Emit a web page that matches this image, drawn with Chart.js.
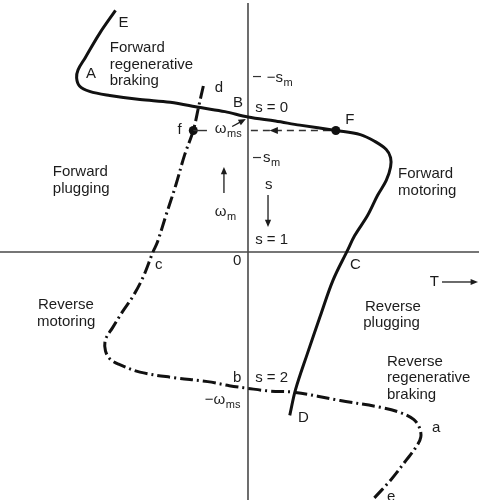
<!DOCTYPE html>
<html>
<head>
<meta charset="utf-8">
<script src="https://cdn.jsdelivr.net/npm/chart.js@4.4.1/dist/chart.umd.min.js"></script>
<style>
  html, body { margin: 0; padding: 0; background: #fff; }
  #wrap { width: 479px; height: 500px; }
</style>
</head>
<body>
<div id="wrap"><canvas id="grafico" width="479" height="500"></canvas></div>
<script>
// --- 1. DATA: torque T (pu) against speed wm (pu of synchronous speed) ---
const frenteTorque = [-0.92, -1.03, -1.13, -1.18, -1.19, -1.17, -1.10, -0.96, -0.75, -0.54,
                      -0.33, -0.16, 0, 0.19, 0.36, 0.61, 0.78, 0.88, 0.96, 0.99,
                      0.99, 0.96, 0.90, 0.83, 0.74, 0.69, 0.59, 0.50, 0.41, 0.33, 0.29];
const frenteVeloc  = [1.79, 1.62, 1.44, 1.35, 1.29, 1.23, 1.19, 1.16, 1.13, 1.11,
                      1.07, 1.04, 1.00, 0.97, 0.94, 0.90, 0.87, 0.82, 0.76, 0.70,
                      0.63, 0.53, 0.42, 0.27, 0.12, 0.01, -0.21, -0.48, -0.76, -1.02, -1.21];

const reversoTorque = [-0.31, -0.34, -0.38, -0.44, -0.50, -0.57, -0.63, -0.66, -0.73, -0.80,
                       -0.87, -0.94, -0.99, -0.99, -0.96, -0.90, -0.75, -0.52, -0.28, -0.13,
                       0, 0.15, 0.33, 0.64, 0.92, 1.06, 1.15, 1.19, 1.20, 1.17, 1.10, 0.99, 0.87];
const reversoVeloc  = [1.23, 1.09, 0.90, 0.72, 0.50, 0.27, 0.07, 0, -0.19, -0.33,
                       -0.44, -0.56, -0.65, -0.73, -0.79, -0.83, -0.89, -0.93, -0.96, -0.99,
                       -1.01, -1.03, -1.04, -1.10, -1.15, -1.19, -1.24, -1.30, -1.37, -1.44, -1.54, -1.69, -1.83];

// operating points F and f, both at the same speed
const pontosTorque = [0.61, -0.38];
const pontosVeloc  = [0.90, 0.90];

// slip marks on the speed axis (s = sm and s = -sm)
const slipMarcas = [0.30, -0.30];

// text labels, position in (T, wm)
const rotulos = [
  { txt: 'E', t: -0.90, w: 1.70 },
  { txt: 'Forward', t: -0.96, w: 1.51 },
  { txt: 'regenerative', t: -0.96, w: 1.385 },
  { txt: 'braking', t: -0.96, w: 1.265 },
  { txt: 'A', t: -1.125, w: 1.32 },
  { txt: 'd', t: -0.23, w: 1.215 },
  { txt: 'B', t: -0.105, w: 1.105 },
  { txt: 's = 0', t: 0.05, w: 1.067 },
  { txt: '\u2212s', sub: 'm', t: 0.13, w: 1.29 },
  { txt: 's', sub: 'm', t: 0.105, w: 0.70 },
  { txt: 'f', t: -0.49, w: 0.904 },
  { txt: '\u03c9', sub: 'ms', t: -0.23, w: 0.915 },
  { txt: 'Forward', t: -1.355, w: 0.593 },
  { txt: 'plugging', t: -1.355, w: 0.467 },
  { txt: '\u03c9', sub: 'm', t: -0.23, w: 0.30 },
  { txt: 's', t: 0.118, w: 0.496 },
  { txt: 's = 1', t: 0.05, w: 0.089 },
  { txt: '0', t: -0.104, w: -0.067 },
  { txt: 'F', t: 0.675, w: 0.978 },
  { txt: 'Forward', t: 1.042, w: 0.578 },
  { txt: 'motoring', t: 1.042, w: 0.452 },
  { txt: 'c', t: -0.646, w: -0.096 },
  { txt: 'C', t: 0.708, w: -0.096 },
  { txt: 'T', t: 1.262, w: -0.222 },
  { txt: 'Reverse', t: -1.458, w: -0.393 },
  { txt: 'motoring', t: -1.465, w: -0.519 },
  { txt: 'Reverse', t: 0.8125, w: -0.407 },
  { txt: 'plugging', t: 0.80, w: -0.526 },
  { txt: 'Reverse', t: 0.965, w: -0.815 },
  { txt: 'regenerative', t: 0.965, w: -0.933 },
  { txt: 'braking', t: 0.965, w: -1.059 },
  { txt: 'b', t: -0.104, w: -0.933 },
  { txt: 's = 2', t: 0.05, w: -0.933 },
  { txt: '\u2212\u03c9', sub: 'ms', t: -0.30, w: -1.096 },
  { txt: 'D', t: 0.347, w: -1.23 },
  { txt: 'a', t: 1.278, w: -1.304 },
  { txt: 'e', t: 0.965, w: -1.815 }
];

// arrows, [t1, w1, t2, w2] with the head at the second point
const setas = [
  [-0.167, 0.437, -0.167, 0.630],
  [0.139, 0.422, 0.139, 0.185],
  [1.347, -0.222, 1.597, -0.222],
  [-0.11, 0.93, -0.015, 0.985]
];

const fonte = '15px "Liberation Sans", Arial, sans-serif';
const fonteSub = '11px "Liberation Sans", Arial, sans-serif';

// --- 2. HELPERS ---
function juntar(ts, ws) {
  return ts.map((t, i) => ({ x: t, y: ws[i] }));
}

function seta(ctx, x1, y1, x2, y2, tam) {
  const ang = Math.atan2(y2 - y1, x2 - x1);
  ctx.beginPath();
  ctx.moveTo(x1, y1);
  ctx.lineTo(x2 - Math.cos(ang) * tam * 0.8, y2 - Math.sin(ang) * tam * 0.8);
  ctx.stroke();
  ponta(ctx, x2, y2, ang, tam);
}

function ponta(ctx, x, y, ang, tam) {
  ctx.beginPath();
  ctx.moveTo(x, y);
  ctx.lineTo(x - tam * Math.cos(ang - 0.4), y - tam * Math.sin(ang - 0.4));
  ctx.lineTo(x - tam * Math.cos(ang + 0.4), y - tam * Math.sin(ang + 0.4));
  ctx.closePath();
  ctx.fill();
}

// --- 3. AXES, ARROWS AND LABELS ---
const desenhoExtra = {
  id: 'desenhoExtra',
  beforeDatasetsDraw(chart) {
    const { ctx, chartArea: area, scales: { x, y } } = chart;
    const x0 = x.getPixelForValue(0);
    const y0 = y.getPixelForValue(0);
    ctx.save();
    ctx.strokeStyle = '#4a4a4a';
    ctx.lineWidth = 1.6;
    ctx.beginPath();
    ctx.moveTo(x0, area.top + 3);
    ctx.lineTo(x0, area.bottom);
    ctx.moveTo(area.left, y0);
    ctx.lineTo(area.right, y0);
    ctx.stroke();

    ctx.lineWidth = 1.2;
    ctx.strokeStyle = '#333';
    slipMarcas.forEach(s => {
      const py = y.getPixelForValue(1 - s);
      ctx.beginPath();
      ctx.moveTo(x0 + 5, py);
      ctx.lineTo(x0 + 13, py);
      ctx.stroke();
    });
    ctx.restore();
  },
  afterDatasetsDraw(chart) {
    const { ctx, scales: { x, y } } = chart;
    ctx.save();
    ctx.fillStyle = '#1c1c1c';
    ctx.strokeStyle = '#1c1c1c';
    ctx.lineWidth = 1.3;

    setas.forEach(a => {
      seta(ctx, x.getPixelForValue(a[0]), y.getPixelForValue(a[1]),
        x.getPixelForValue(a[2]), y.getPixelForValue(a[3]), 8);
    });

    // arrow head on the dashed wms line, pointing left
    ponta(ctx, x.getPixelForValue(0.15), y.getPixelForValue(pontosVeloc[0]), Math.PI, 9);

    ctx.textBaseline = 'middle';
    ctx.textAlign = 'left';
    rotulos.forEach(r => {
      const px = x.getPixelForValue(r.t);
      const py = y.getPixelForValue(r.w);
      ctx.font = fonte;
      ctx.fillText(r.txt, px, py);
      if (r.sub) {
        const larg = ctx.measureText(r.txt).width;
        ctx.font = fonteSub;
        ctx.fillText(r.sub, px + larg + 0.5, py + 5);
      }
    });
    ctx.restore();
  }
};

// --- 4. CHART ---
new Chart(document.getElementById('grafico').getContext('2d'), {
  type: 'scatter',
  data: {
    datasets: [
      {
        data: juntar(frenteTorque, frenteVeloc),
        showLine: true,
        borderColor: '#111',
        borderWidth: 3,
        tension: 0.35,
        pointRadius: 0
      },
      {
        data: juntar(reversoTorque, reversoVeloc),
        showLine: true,
        borderColor: '#111',
        borderWidth: 3,
        borderDash: [13, 4, 2, 4],
        tension: 0.35,
        pointRadius: 0
      },
      {
        // dashed line from the wms mark to F
        data: [{ x: 0.02, y: pontosVeloc[0] }, { x: pontosTorque[0], y: pontosVeloc[0] }],
        showLine: true,
        borderColor: '#333',
        borderWidth: 1.4,
        borderDash: [7, 5],
        pointRadius: 0
      },
      {
        data: [{ x: pontosTorque[1], y: pontosVeloc[1] }, { x: -0.285, y: pontosVeloc[1] }],
        showLine: true,
        borderColor: '#333',
        borderWidth: 1.4,
        pointRadius: 0
      },
      {
        data: juntar(pontosTorque, pontosVeloc),
        pointRadius: 4.5,
        pointBackgroundColor: '#111',
        pointBorderWidth: 0
      }
    ]
  },
  options: {
    responsive: false,
    animation: false,
    layout: { padding: 0, autoPadding: false },
    plugins: { legend: { display: false }, tooltip: { enabled: false } },
    scales: {
      x: { type: 'linear', display: false, min: -1.722, max: 1.604 },
      y: { type: 'linear', display: false, min: -1.837, max: 1.867 }
    }
  },
  plugins: [desenhoExtra]
});
</script>
</body>
</html>
